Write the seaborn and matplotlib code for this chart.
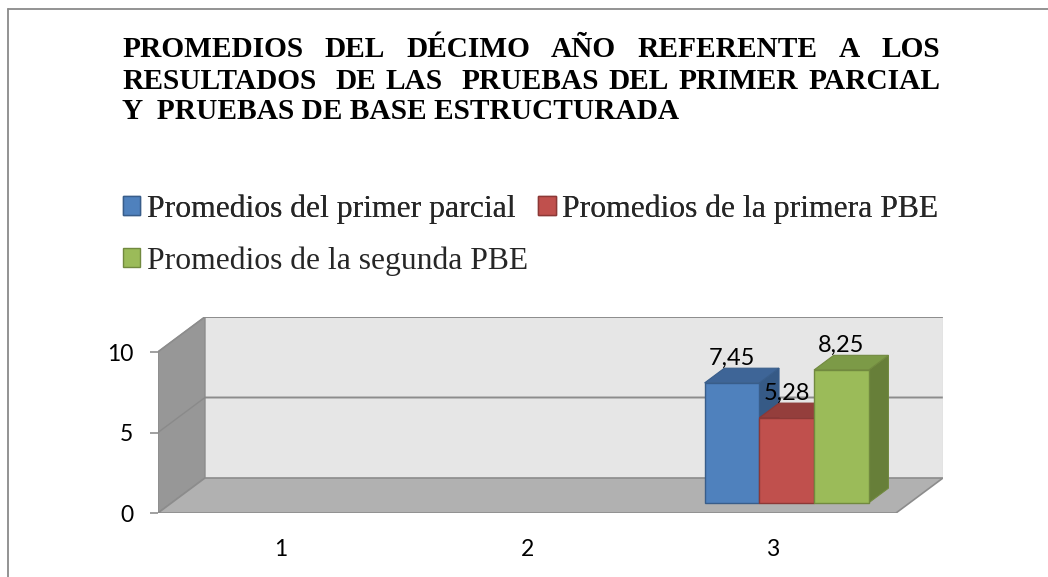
import matplotlib
matplotlib.use("Agg")
import matplotlib.pyplot as plt
from matplotlib.patches import Polygon, Patch
from matplotlib.lines import Line2D
import pandas as pd
import seaborn as sns

# ---------------------------------------------------------------- data
categories = ["1", "2", "3"]
series_names = [
    "Promedios del primer parcial",
    "Promedios de la primera PBE",
    "Promedios de la segunda PBE",
]
primer_parcial = [None, None, 7.45]
primera_pbe = [None, None, 5.28]
segunda_pbe = [None, None, 8.25]
y_ticks = [0, 5, 10]

title_lines = [
    "PROMEDIOS  DEL  DÉCIMO  AÑO  REFERENTE  A  LOS",
    "RESULTADOS  DE LAS  PRUEBAS DEL PRIMER PARCIAL",
    "Y  PRUEBAS DE BASE ESTRUCTURADA",
]

rows = []
for name, vals in zip(series_names, [primer_parcial, primera_pbe, segunda_pbe]):
    for cat, v in zip(categories, vals):
        if v is not None:
            rows.append({"categoria": cat, "serie": name, "promedio": v})
df = pd.DataFrame(rows)

# ---------------------------------------------------------------- style
front_colors = ["#4F81BD", "#C0504D", "#9BBB59"]
top_colors = ["#3E6597", "#943E3C", "#7C9A47"]
side_colors = ["#365A86", "#853735", "#677F39"]
edge_colors = ["#385D8A", "#8C3836", "#71893F"]
wall_back, wall_side, wall_floor, wall_edge = "#E6E6E6", "#979797", "#B1B1B1", "#8C8C8C"

sns.set_theme(style="white")
plt.rcParams["font.family"] = ["Lato", "DejaVu Sans"]

W, H = 1048, 577
fig = plt.figure(figsize=(W / 100, H / 100), dpi=100)
fig.patch.set_facecolor("white")

# plot box: front-left-bottom corner to back-right-top corner
ax = fig.add_axes([158 / W, (H - 513) / H, (943 - 158) / W, (513 - 317) / H])
ax.set_facecolor("none")

DX, DY = 0.191, 2.174      # depth of the 3-D box in data units
F0, FD = 0.29, 0.42        # bar front offset and bar depth (fractions of box depth)
x_lo, x_hi = -0.5, len(categories) - 0.5
y_top = max(y_ticks)

sns.barplot(
    data=df, x="categoria", y="promedio", hue="serie",
    order=categories, hue_order=series_names, palette=front_colors,
    saturation=1, width=0.667, errorbar=None, legend=False, ax=ax,
    linewidth=1.0,
)
bars = list(ax.patches)

ax.set_xlim(x_lo, x_hi + DX)
ax.set_ylim(0, y_top + DY)

# walls and floor
ax.add_patch(Polygon([(x_lo + DX, DY), (x_hi + DX, DY), (x_hi + DX, y_top + DY), (x_lo + DX, y_top + DY)],
                     closed=True, facecolor=wall_back, edgecolor="none", zorder=1))
for t in y_ticks[1:]:
    ax.plot([x_lo, x_lo + DX, x_hi + DX], [t, t + DY, t + DY], color=wall_edge, lw=1.4, zorder=2,
            solid_capstyle="butt")
ax.add_patch(Polygon([(x_lo, 0), (x_lo + DX, DY), (x_lo + DX, y_top + DY), (x_lo, y_top)],
                     closed=True, facecolor=wall_side, edgecolor=wall_edge, lw=1.0, zorder=3))
ax.plot([x_lo, x_lo + DX], [5, 5 + DY], color="#8A8A8A", lw=1.0, zorder=3.5)
ax.add_patch(Polygon([(x_lo, 0), (x_hi, 0), (x_hi + DX, DY), (x_lo + DX, DY)],
                     closed=True, facecolor=wall_floor, edgecolor=wall_edge, lw=1.2, zorder=4))
ax.plot([x_hi + DX, x_hi + DX], [DY, y_top + DY], color="#D9D9D9", lw=1.0, zorder=2)

# 3-D bars: front faces from seaborn, pushed into the box, plus top and side faces
for i, p in enumerate(bars):
    x0 = p.get_x() + F0 * DX
    y0 = p.get_y() + F0 * DY
    w, h = p.get_width(), p.get_height()
    p.set_x(x0)
    p.set_y(y0)
    p.set_edgecolor(edge_colors[i])
    p.set_linewidth(1.0)
    p.set_zorder(10 + 2 * i + 1)
    x1, y1 = x0 + w, y0 + h
    ddx, ddy = FD * DX, FD * DY
    ax.add_patch(Polygon([(x1, y0), (x1 + ddx, y0 + ddy), (x1 + ddx, y1 + ddy), (x1, y1)], closed=True,
                         facecolor=side_colors[i], edgecolor=edge_colors[i], lw=0.8, zorder=10 + 2 * i))
    ax.add_patch(Polygon([(x0, y1), (x1, y1), (x1 + ddx, y1 + ddy), (x0 + ddx, y1 + ddy)], closed=True,
                         facecolor=top_colors[i], edgecolor=edge_colors[i], lw=0.8, zorder=10 + 2 * i))
    ax.annotate(f"{h:.2f}".replace(".", ","), xy=(x0 + w / 2, y1 + ddy), xytext=(0, 2.5),
                textcoords="offset points", ha="center", va="baseline", fontsize=17,
                color="black", zorder=30)

for s in ax.spines.values():
    s.set_visible(False)
ax.set_yticks(y_ticks)
ax.set_yticklabels([str(t) for t in y_ticks])
ax.set_xticks(range(len(categories)))
ax.set_xticklabels(categories)
ax.set_xlabel("")
ax.set_ylabel("")
ax.tick_params(axis="y", left=True, length=5.8, width=1.1, color="#868686", pad=12,
               labelsize=16.5, labelcolor="black")
ax.tick_params(axis="x", bottom=False, length=0, pad=19, labelsize=16.5, labelcolor="black")

# ---------------------------------------------------------------- title (justified)
serif_bold = dict(family=["Liberation Serif", "DejaVu Serif"], fontweight="bold", fontsize=21.2, color="black")
fig.canvas.draw()
renderer = fig.canvas.get_renderer()


def text_width(s, **kw):
    t = fig.text(0, 0, s, **kw)
    w = t.get_window_extent(renderer).width
    t.remove()
    return w


space_w = text_width("I I", **serif_bold) - text_width("II", **serif_bold)
title_left, title_right = 122, 940
baselines = [57, 89, 119]
for k, line in enumerate(title_lines):
    yb = 1 - baselines[k] / H
    if k == len(title_lines) - 1:
        fig.text(title_left / W, yb, line, ha="left", va="baseline", **serif_bold)
        continue
    tokens = line.split(" ")
    widths = [text_width(tk, **serif_bold) if tk else 0.0 for tk in tokens]
    n_sp = len(tokens) - 1
    natural = sum(widths) + n_sp * space_w
    extra = (title_right - title_left - natural) / n_sp
    cursor = title_left
    for tk, wtk in zip(tokens, widths):
        if tk:
            fig.text(cursor / W, yb, tk, ha="left", va="baseline", **serif_bold)
        cursor += wtk + space_w + extra

# ---------------------------------------------------------------- legend
handles = [Patch(facecolor=front_colors[i], edgecolor=edge_colors[i], lw=1.0) for i in range(3)]
leg_kw = dict(frameon=False, borderpad=0, borderaxespad=0, handlelength=0.55, handleheight=0.55,
              handletextpad=0.2, columnspacing=0.72,
              prop=dict(family=["Liberation Serif", "DejaVu Serif"], size=22.8))
leg1 = fig.legend(handles[:2], series_names[:2], ncol=2, loc="center left",
                  bbox_to_anchor=(123 / W, 1 - 209 / H), **leg_kw)
fig.add_artist(leg1)
leg2 = fig.legend(handles[2:], series_names[2:], ncol=1, loc="center left",
                  bbox_to_anchor=(123 / W, 1 - 261 / H), **leg_kw)

# ---------------------------------------------------------------- outer frame (top and left edges)
fig.add_artist(Line2D([8 / W, 8 / W], [0, 1 - 9 / H], color="#8A8A8A", lw=1.3, transform=fig.transFigure))
fig.add_artist(Line2D([8 / W, 1], [1 - 9 / H, 1 - 9 / H], color="#8A8A8A", lw=1.3, transform=fig.transFigure))

fig.savefig("out.png", dpi=100)
